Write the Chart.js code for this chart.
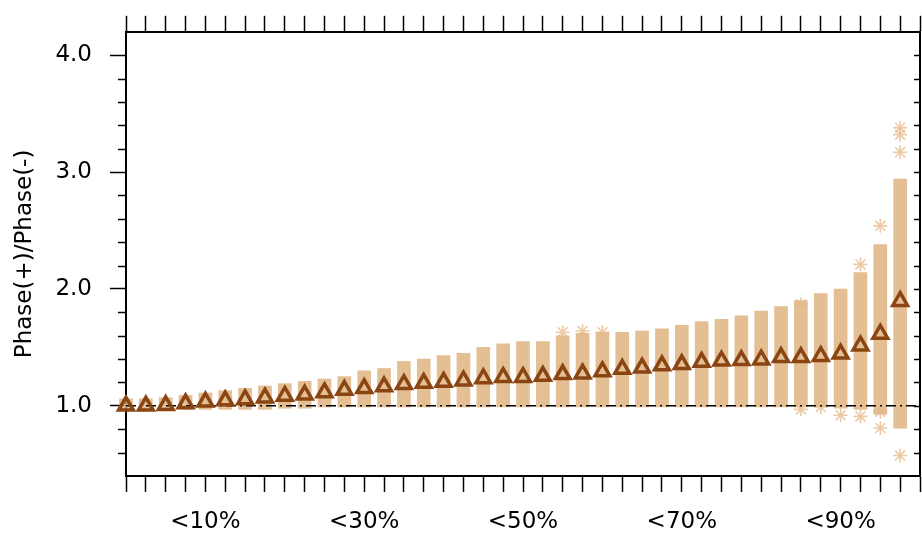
<!DOCTYPE html>
<html>
<head>
<meta charset="utf-8">
<script src="https://cdn.jsdelivr.net/npm/chart.js@4.4.0/dist/chart.umd.min.js"></script>
<style>
  html, body { margin: 0; padding: 0; background: #fff; }
  canvas { display: block; }
</style>
</head>
<body>
<canvas id="ratioChart" width="922" height="536"></canvas>
<script>
// percentile bins (x position of each box)
const binPct = [0, 2.5, 5, 7.5, 10, 12.5, 15, 17.5, 20, 22.5,
                25, 27.5, 30, 32.5, 35, 37.5, 40, 42.5, 45, 47.5,
                50, 52.5, 55, 57.5, 60, 62.5, 65, 67.5, 70, 72.5,
                75, 77.5, 80, 82.5, 85, 87.5, 90, 92.5, 95, 97.5];

// ensemble mean ratio (triangles)
const meanRatio = [1.00, 1.00, 1.005, 1.02, 1.035, 1.045, 1.055, 1.07, 1.085, 1.095,
                   1.115, 1.135, 1.15, 1.165, 1.185, 1.195, 1.205, 1.215, 1.235, 1.245,
                   1.245, 1.255, 1.27, 1.275, 1.295, 1.315, 1.325, 1.345, 1.355, 1.375,
                   1.385, 1.39, 1.395, 1.415, 1.415, 1.425, 1.445, 1.515, 1.615, 1.895];

// member spread (tan bands)
const bandLow = [0.96, 0.97, 0.97, 0.97, 0.97, 0.97, 0.97, 0.97, 0.98, 0.98,
                 0.99, 0.99, 0.99, 0.99, 0.99, 0.99, 0.99, 0.99, 0.99, 0.99,
                 0.99, 0.99, 0.99, 0.99, 0.99, 0.99, 0.99, 0.99, 0.99, 0.99,
                 0.99, 0.99, 0.99, 0.99, 0.99, 0.99, 0.98, 0.97, 0.93, 0.81];
const bandHigh = [1.06, 1.06, 1.07, 1.09, 1.11, 1.13, 1.15, 1.17, 1.19, 1.21,
                  1.23, 1.25, 1.30, 1.32, 1.38, 1.40, 1.43, 1.45, 1.50, 1.53,
                  1.55, 1.55, 1.60, 1.62, 1.63, 1.63, 1.64, 1.66, 1.69, 1.72,
                  1.74, 1.77, 1.81, 1.85, 1.90, 1.96, 2.00, 2.14, 2.38, 2.94];

// outlier members (asterisks)
const outlierX = [55, 57.5, 60, 85, 85, 87.5, 90, 92.5, 92.5, 95, 95, 95, 97.5, 97.5, 97.5, 97.5];
const outlierY = [1.63, 1.64, 1.63, 1.87, 0.97, 0.99, 0.92, 2.21, 0.91, 2.54, 0.95, 0.81, 3.38, 3.32, 3.17, 0.575];

// reference line
const refX = [0, 100];
const refY = [1.0, 1.0];

// axis ticks
const xTickVals = [0, 2.5, 5, 7.5, 10, 12.5, 15, 17.5, 20, 22.5, 25, 27.5, 30, 32.5, 35, 37.5, 40,
                   42.5, 45, 47.5, 50, 52.5, 55, 57.5, 60, 62.5, 65, 67.5, 70, 72.5, 75, 77.5, 80,
                   82.5, 85, 87.5, 90, 92.5, 95, 97.5, 100];
const xLabelVals = [10, 30, 50, 70, 90];
const yMajorTicks = [1, 2, 3, 4];
const yMinorTicks = [0.6, 0.8, 1.0, 1.2, 1.4, 1.6, 1.8, 2.0, 2.2, 2.4, 2.6, 2.8, 3.0, 3.2, 3.4, 3.6, 3.8, 4.0];

const FONT = 'DejaVu Sans';

// minor ticks on the left, inward ticks + frame on the right
const frameTicks = {
  id: 'frameTicks',
  afterDraw(chart) {
    const { ctx, chartArea: a } = chart;
    const y = chart.scales.y;
    ctx.save();
    ctx.strokeStyle = '#000';
    ctx.lineWidth = 1.5;
    ctx.beginPath();
    yMinorTicks.forEach(v => {
      const py = Math.round(y.getPixelForValue(v)) + 0.5;
      if (!yMajorTicks.includes(v)) {
        ctx.moveTo(a.left - 8, py);
        ctx.lineTo(a.left, py);
      }
      ctx.moveTo(a.right - 6, py);
      ctx.lineTo(a.right, py);
    });
    ctx.stroke();
    ctx.lineWidth = 2;
    ctx.beginPath();
    ctx.moveTo(a.right, a.top - 1);
    ctx.lineTo(a.right, a.bottom + 1);
    ctx.stroke();
    ctx.restore();
  }
};

const ctx = document.getElementById('ratioChart').getContext('2d');
new Chart(ctx, {
  type: 'bar',
  data: {
    datasets: [
      {
        type: 'scatter',
        label: 'mean',
        data: binPct.map((x, i) => ({ x: x, y: meanRatio[i] })),
        pointStyle: 'triangle',
        pointRadius: 8.5,
        pointBorderWidth: 3.5,
        borderColor: '#8b4513',
        backgroundColor: 'rgba(0,0,0,0)',
        xAxisID: 'x',
        clip: false,
        order: 0
      },
      {
        type: 'line',
        label: 'ref',
        data: refX.map((x, i) => ({ x: x, y: refY[i] })),
        borderColor: '#000',
        borderWidth: 1.5,
        borderDash: [10, 4, 2, 4],
        pointRadius: 0,
        fill: false,
        xAxisID: 'x',
        order: 1
      },
      {
        type: 'scatter',
        label: 'outliers',
        data: outlierX.map((x, i) => ({ x: x, y: outlierY[i] })),
        pointStyle: 'star',
        pointRadius: 7,
        pointBorderWidth: 1.6,
        borderColor: 'rgba(228,186,138,0.75)',
        backgroundColor: 'rgba(228,186,138,0.75)',
        xAxisID: 'x',
        clip: false,
        order: 2
      },
      {
        type: 'bar',
        label: 'spread',
        data: binPct.map((x, i) => ({ x: x, y: [bandLow[i], bandHigh[i]] })),
        backgroundColor: 'rgba(222,180,128,0.85)',
        borderWidth: 0,
        barThickness: 13,
        xAxisID: 'x',
        clip: false,
        order: 3
      }
    ]
  },
  options: {
    responsive: false,
    animation: false,
    layout: { autoPadding: false, padding: { right: 2 } },
    plugins: {
      legend: { display: false },
      tooltip: { enabled: false }
    },
    scales: {
      x: {
        type: 'linear',
        position: 'bottom',
        min: 0,
        max: 100,
        offset: false,
        afterBuildTicks: s => { s.ticks = xTickVals.map(v => ({ value: v })); },
        afterFit: s => { s.height = 60; },
        grid: { offset: false, drawOnChartArea: false, drawTicks: true, tickLength: 16, tickColor: '#000', tickWidth: 1.5 },
        border: { display: true, color: '#000', width: 2 },
        ticks: {
          autoSkip: false,
          maxRotation: 0,
          padding: 0,
          color: '#000',
          font: { family: FONT, size: 23, lineHeight: 2.6 },
          callback: v => xLabelVals.includes(v) ? '<' + v + '%' : ''
        }
      },
      x2: {
        type: 'linear',
        position: 'top',
        min: 0,
        max: 100,
        offset: false,
        afterBuildTicks: s => { s.ticks = xTickVals.map(v => ({ value: v })); },
        afterFit: s => { s.height = 30; },
        grid: { offset: false, drawOnChartArea: false, drawTicks: true, tickLength: 16, tickColor: '#000', tickWidth: 1.5 },
        border: { display: true, color: '#000', width: 2 },
        ticks: { display: false, padding: 0 }
      },
      y: {
        type: 'linear',
        position: 'left',
        min: 0.4,
        max: 4.2,
        afterBuildTicks: s => { s.ticks = yMajorTicks.map(v => ({ value: v })); },
        afterFit: s => { s.width = 126; },
        grid: { drawOnChartArea: false, drawTicks: true, tickLength: 16, tickColor: '#000', tickWidth: 1.5 },
        border: { display: true, color: '#000', width: 2 },
        ticks: {
          padding: 18,
          color: '#000',
          font: { family: FONT, size: 23 },
          callback: v => v.toFixed(1)
        },
        title: {
          display: true,
          text: 'Phase(+)/Phase(-)',
          color: '#000',
          font: { family: FONT, size: 23 },
          padding: { top: 11, bottom: 0 }
        }
      }
    }
  },
  plugins: [frameTicks]
});
</script>
</body>
</html>
